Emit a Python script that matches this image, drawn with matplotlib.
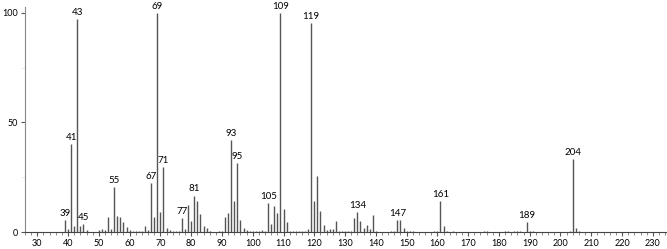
import numpy as np
import matplotlib.pyplot as plt
from matplotlib.ticker import MultipleLocator

# m/z values and relative intensities
mz = [39, 40, 41, 42, 43, 44, 45, 46, 50, 51, 52, 53, 54, 55, 56, 57, 58, 59,
      60, 61, 62, 63, 64, 65, 66, 67, 68, 69, 70, 71, 72, 73, 74, 75, 76, 77,
      78, 79, 80, 81, 82, 83, 84, 85, 86, 89, 90, 91, 92, 93, 94, 95, 96, 97,
      98, 99, 100, 101, 102, 103, 104, 105, 106, 107, 108, 109, 110, 111, 112,
      113, 114, 115, 116, 117, 118, 119, 120, 121, 122, 123, 124, 125, 126,
      127, 128, 129, 130, 131, 132, 133, 134, 135, 136, 137, 138, 139, 140,
      145, 146, 147, 148, 149, 150, 151, 152, 159, 160, 161, 162, 163, 165,
      175, 176, 182, 183, 185, 186, 187, 189, 190, 191, 203, 204, 205, 206]
intensity = [5.6, 1.4, 40, 2.6, 97, 2.9, 3.7, 0.8, 0.8, 1.4, 0.8, 6.8, 1.4,
             20.5, 7.5, 6.8, 4.4, 2.3, 0.8, 0.6, 0.6, 0.6, 0.5, 2.7, 1.0, 22.5,
             6.8, 100, 9.0, 29.8, 2.0, 0.8, 0.6, 0.6, 0.6, 6.4, 1.5, 12.2, 5.2,
             16.6, 14.3, 8.2, 2.6, 1.7, 0.7, 0.7, 0.7, 6.8, 8.8, 42, 14, 31.5,
             5.6, 1.8, 0.8, 0.6, 0.5, 0.6, 0.6, 0.8, 0.6, 13.1, 3.8, 11.7, 8.7,
             100, 10.5, 4.4, 0.7, 0.7, 0.5, 0.7, 0.5, 0.7, 1.4, 95.4, 14, 25.6,
             9.4, 3.0, 1.0, 1.4, 1.4, 5.2, 0.7, 0.7, 0.7, 0.7, 0.7, 6.4, 9.1,
             5.2, 2.0, 3.3, 1.5, 7.6, 0.7, 0.7, 0.7, 5.5, 5.5, 2.0, 0.6, 0.7,
             0.6, 0.7, 0.7, 14, 2.6, 0.7, 0.6, 0.7, 0.7, 0.7, 0.6, 0.6, 0.7,
             0.6, 4.6, 0.7, 0.6, 0.7, 33.3, 1.7, 0.7]
labeled = [39, 41, 43, 45, 55, 67, 69, 71, 77, 81, 93, 95, 105, 109, 119, 134,
           147, 161, 189, 204]

fig = plt.figure(figsize=(6.67, 2.49), dpi=100)
ax = fig.add_axes([0.0375, 0.068, 0.962, 0.904])

ax.vlines(mz, 0, intensity, color='#555555', linewidth=1.0)

peaks = dict(zip(mz, intensity))
for m in labeled:
    ax.text(m, peaks[m] + 1.0, str(m), ha='center', va='bottom',
            fontsize=7, family='Lato', clip_on=False)

ax.set_xlim(26, 234.5)
ax.set_ylim(0, 102.7)
ax.xaxis.set_minor_locator(MultipleLocator(2))
ax.set_xticks(np.arange(30, 231, 10))
ax.set_yticks([0, 50, 100])
ax.yaxis.set_minor_locator(MultipleLocator(25))

for s in ['top', 'right']:
    ax.spines[s].set_visible(False)
ax.spines['left'].set_color('#888888')
ax.spines['bottom'].set_color('#444444')
ax.tick_params(axis='both', labelsize=6.5, length=3, width=0.8, color='#555555', pad=2)
ax.tick_params(axis='x', which='minor', length=2, width=0.6, color='#777777')
ax.tick_params(axis='y', which='minor', length=2, width=0.6, color='#dddddd')
for lab in ax.get_xticklabels() + ax.get_yticklabels():
    lab.set_family('Lato')

fig.savefig('out.png', dpi=100)
